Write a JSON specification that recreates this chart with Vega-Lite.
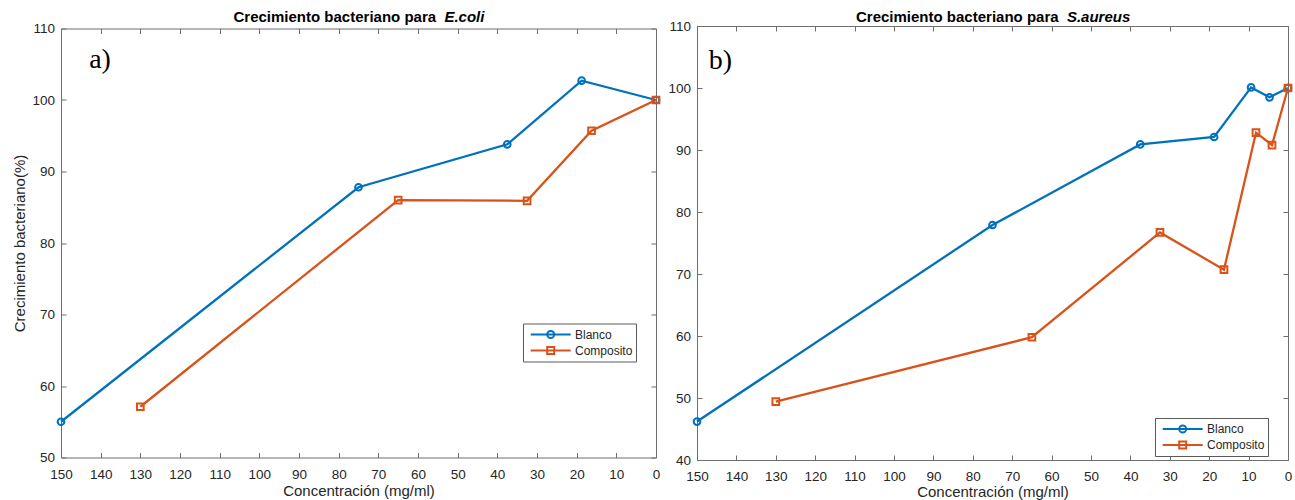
{
  "$schema": "https://vega.github.io/schema/vega-lite/v6.json",
  "background": "white",
  "padding": {"left": 11, "top": 8, "right": 0, "bottom": 0},
  "datasets": {
    "ecoli": [
      {"serie": "Blanco", "conc": 150, "crec": 55.0},
      {"serie": "Blanco", "conc": 75, "crec": 87.8},
      {"serie": "Blanco", "conc": 37.5, "crec": 93.8},
      {"serie": "Blanco", "conc": 18.75, "crec": 102.7},
      {"serie": "Blanco", "conc": 0, "crec": 100.0},
      {"serie": "Composito", "conc": 130, "crec": 57.1},
      {"serie": "Composito", "conc": 65, "crec": 86.0},
      {"serie": "Composito", "conc": 32.5, "crec": 85.9},
      {"serie": "Composito", "conc": 16.25, "crec": 95.7},
      {"serie": "Composito", "conc": 0, "crec": 100.0}
    ],
    "saureus": [
      {"serie": "Blanco", "conc": 150, "crec": 46.2},
      {"serie": "Blanco", "conc": 75, "crec": 77.9},
      {"serie": "Blanco", "conc": 37.5, "crec": 90.9},
      {"serie": "Blanco", "conc": 18.75, "crec": 92.1},
      {"serie": "Blanco", "conc": 9.375, "crec": 100.1},
      {"serie": "Blanco", "conc": 4.6875, "crec": 98.5},
      {"serie": "Blanco", "conc": 0, "crec": 100.0},
      {"serie": "Composito", "conc": 130, "crec": 49.4},
      {"serie": "Composito", "conc": 65, "crec": 59.8},
      {"serie": "Composito", "conc": 32.5, "crec": 76.7},
      {"serie": "Composito", "conc": 16.25, "crec": 70.7},
      {"serie": "Composito", "conc": 8.125, "crec": 92.8},
      {"serie": "Composito", "conc": 4.0625, "crec": 90.8},
      {"serie": "Composito", "conc": 0, "crec": 100.0}
    ]
  },
  "spacing": 41,
  "bounds": "flush",
  "center": true,
  "resolve": {"scale": {"color": "independent"}, "legend": {"color": "independent"}},
  "hconcat": [
    {
      "width": 595,
      "height": 429,
      "layer": [
        {
          "data": {"name": "ecoli"},
          "mark": {"type": "line", "strokeWidth": 2.3},
          "encoding": {
            "x": {"field": "conc", "type": "quantitative",
                  "scale": {"domain": [0, 150], "reverse": true, "nice": false, "zero": false},
                  "axis": {"orient": "bottom", "values": [0,10,20,30,40,50,60,70,80,90,100,110,120,130,140,150], "labelFlush": false,
                           "title": "Concentración (mg/ml)", "titleY": 37.8, "titleBaseline": "alphabetic", "labelPadding": 15}},
            "y": {"field": "crec", "type": "quantitative",
                  "scale": {"domain": [50, 110], "nice": false, "zero": false},
                  "axis": {"orient": "left", "values": [50,60,70,80,90,100,110], "labelFlush": false,
                           "title": "Crecimiento bacteriano(%)", "titleX": -42, "titleY": 214.5, "titleBaseline": "middle", "labelPadding": 11.5}},
            "color": {"field": "serie", "type": "nominal",
                      "scale": {"domain": ["Blanco", "Composito"], "range": ["#0072BD", "#D95319"]},
                      "legend": {"orient": "none", "legendX": 462, "legendY": 295, "title": null, "direction": "vertical",
                                 "strokeColor": "#5a5a5a", "fillColor": "white", "padding": 3, "rowPadding": 0,
                                 "labelFontSize": 12, "labelColor": "#262626", "symbolSize": 196, "labelOffset": 33,
                                 "symbolStrokeWidth": 2, "symbolType": "M-0.47,0H5.24",
                                 "encode": {"symbols": {"update": {
                                   "shape": {"signal": "datum.value === 'Blanco' ? 'M-0.47,0H5.24M2.886,0A0.5,0.5 0 1 1 1.886,0A0.5,0.5 0 1 1 2.886,0' : 'M-0.47,0H5.24M1.886,-0.5H2.886V0.5H1.886Z'"},
                                   "fill": {"value": "transparent"}}}}}}
          }
        },
        {
          "data": {"name": "ecoli"},
          "mark": {"type": "point", "filled": false, "strokeWidth": 2, "size": 45, "opacity": 1},
          "encoding": {
            "x": {"field": "conc", "type": "quantitative",
                  "scale": {"domain": [0, 150], "reverse": true, "nice": false, "zero": false},
                  "axis": {"orient": "top", "values": [0,10,20,30,40,50,60,70,80,90,100,110,120,130,140,150], "labels": false,
                           "title": "Crecimiento bacteriano para", "titleFontWeight": "bold", "titleFontSize": 15, "titleColor": "#000000",
                           "titleAlign": "left", "titleBaseline": "alphabetic", "titleAngle": 0, "titleX": 172, "titleY": -7}},
            "y": {"field": "crec", "type": "quantitative",
                  "scale": {"domain": [50, 110], "nice": false, "zero": false},
                  "axis": {"orient": "right", "values": [50,60,70,80,90,100,110], "labels": false, "title": null}},
            "color": {"field": "serie", "type": "nominal",
                      "scale": {"domain": ["Blanco", "Composito"], "range": ["#0072BD", "#D95319"]}},
            "shape": {"condition": {"test": "datum.serie === 'Blanco'", "value": "circle"}, "value": "square"}
          }
        },
        {
          "data": {"values": [{"etiqueta": "a)"}]},
          "mark": {"type": "text", "font": "Liberation Serif", "fontSize": 28, "align": "left", "baseline": "alphabetic", "color": "black"},
          "encoding": {
            "x": {"datum": 142.9, "type": "quantitative", "scale": {"domain": [0, 150], "reverse": true, "nice": false, "zero": false},
                  "axis": {"orient": "top", "ticks": false, "labels": false, "domain": false,
                           "title": "E.coli", "titleFontStyle": "italic", "titleFontWeight": "bold", "titleFontSize": 15, "titleColor": "#000000",
                           "titleAlign": "left", "titleBaseline": "alphabetic", "titleAngle": 0, "titleX": 382.9, "titleY": -7}},
            "y": {"datum": 104.5, "type": "quantitative", "scale": {"domain": [50, 110], "nice": false, "zero": false}, "axis": null},
            "text": {"field": "etiqueta"}
          }
        }
      ],
      "resolve": {"axis": {"x": "independent", "y": "independent"}}
    },
    {
      "width": 591,
      "height": 434,
      "layer": [
        {
          "data": {"name": "saureus"},
          "mark": {"type": "line", "strokeWidth": 2.3},
          "encoding": {
            "x": {"field": "conc", "type": "quantitative",
                  "scale": {"domain": [0, 150], "reverse": true, "nice": false, "zero": false},
                  "axis": {"orient": "bottom", "values": [0,10,20,30,40,50,60,70,80,90,100,110,120,130,140,150], "labelFlush": false,
                           "title": "Concentración (mg/ml)", "titleY": 36, "titleBaseline": "alphabetic", "labelPadding": 14}},
            "y": {"field": "crec", "type": "quantitative",
                  "scale": {"domain": [40, 110], "nice": false, "zero": false},
                  "axis": {"orient": "left", "values": [40,50,60,70,80,90,100,110], "labelFlush": false, "title": null, "labelPadding": 11.5}},
            "color": {"field": "serie", "type": "nominal",
                      "scale": {"domain": ["Blanco", "Composito"], "range": ["#0072BD", "#D95319"]},
                      "legend": {"orient": "none", "legendX": 458, "legendY": 392, "title": null, "direction": "vertical",
                                 "strokeColor": "#5a5a5a", "fillColor": "white", "padding": 3, "rowPadding": 0,
                                 "labelFontSize": 12, "labelColor": "#262626", "symbolSize": 196, "labelOffset": 33,
                                 "symbolStrokeWidth": 2, "symbolType": "M-0.47,0H5.24",
                                 "encode": {"symbols": {"update": {
                                   "shape": {"signal": "datum.value === 'Blanco' ? 'M-0.47,0H5.24M2.886,0A0.5,0.5 0 1 1 1.886,0A0.5,0.5 0 1 1 2.886,0' : 'M-0.47,0H5.24M1.886,-0.5H2.886V0.5H1.886Z'"},
                                   "fill": {"value": "transparent"}}}}}}
          }
        },
        {
          "data": {"name": "saureus"},
          "mark": {"type": "point", "filled": false, "strokeWidth": 2, "size": 45, "opacity": 1},
          "encoding": {
            "x": {"field": "conc", "type": "quantitative",
                  "scale": {"domain": [0, 150], "reverse": true, "nice": false, "zero": false},
                  "axis": {"orient": "top", "values": [0,10,20,30,40,50,60,70,80,90,100,110,120,130,140,150], "labels": false,
                           "title": "Crecimiento bacteriano para", "titleFontWeight": "bold", "titleFontSize": 15, "titleColor": "#000000",
                           "titleAlign": "left", "titleBaseline": "alphabetic", "titleAngle": 0, "titleX": 158.5, "titleY": -5}},
            "y": {"field": "crec", "type": "quantitative",
                  "scale": {"domain": [40, 110], "nice": false, "zero": false},
                  "axis": {"orient": "right", "values": [40,50,60,70,80,90,100,110], "labels": false, "title": null}},
            "color": {"field": "serie", "type": "nominal",
                      "scale": {"domain": ["Blanco", "Composito"], "range": ["#0072BD", "#D95319"]}},
            "shape": {"condition": {"test": "datum.serie === 'Blanco'", "value": "circle"}, "value": "square"}
          }
        },
        {
          "data": {"values": [{"etiqueta": "b)"}]},
          "mark": {"type": "text", "font": "Liberation Serif", "fontSize": 28, "align": "left", "baseline": "alphabetic", "color": "black"},
          "encoding": {
            "x": {"datum": 147, "type": "quantitative", "scale": {"domain": [0, 150], "reverse": true, "nice": false, "zero": false},
                  "axis": {"orient": "top", "ticks": false, "labels": false, "domain": false,
                           "title": "S.aureus", "titleFontStyle": "italic", "titleFontWeight": "bold", "titleFontSize": 15, "titleColor": "#000000",
                           "titleAlign": "left", "titleBaseline": "alphabetic", "titleAngle": 0, "titleX": 369.4, "titleY": -5}},
            "y": {"datum": 103.1, "type": "quantitative", "scale": {"domain": [40, 110], "nice": false, "zero": false}, "axis": null},
            "text": {"field": "etiqueta"}
          }
        }
      ],
      "resolve": {"axis": {"x": "independent", "y": "independent"}}
    }
  ],
  "config": {
    "font": "Liberation Sans",
    "view": {"stroke": "#6e6e6e", "strokeWidth": 1},
    "axis": {
      "grid": false, "domain": false, "tickColor": "#6e6e6e", "tickSize": -5, "tickWidth": 1,
      "labelColor": "#262626", "labelFontSize": 13.5, "labelFont": "Liberation Sans",
      "titleColor": "#262626", "titleFontWeight": "normal", "titleFontSize": 15, "titleFont": "Liberation Sans"
    }
  }
}
